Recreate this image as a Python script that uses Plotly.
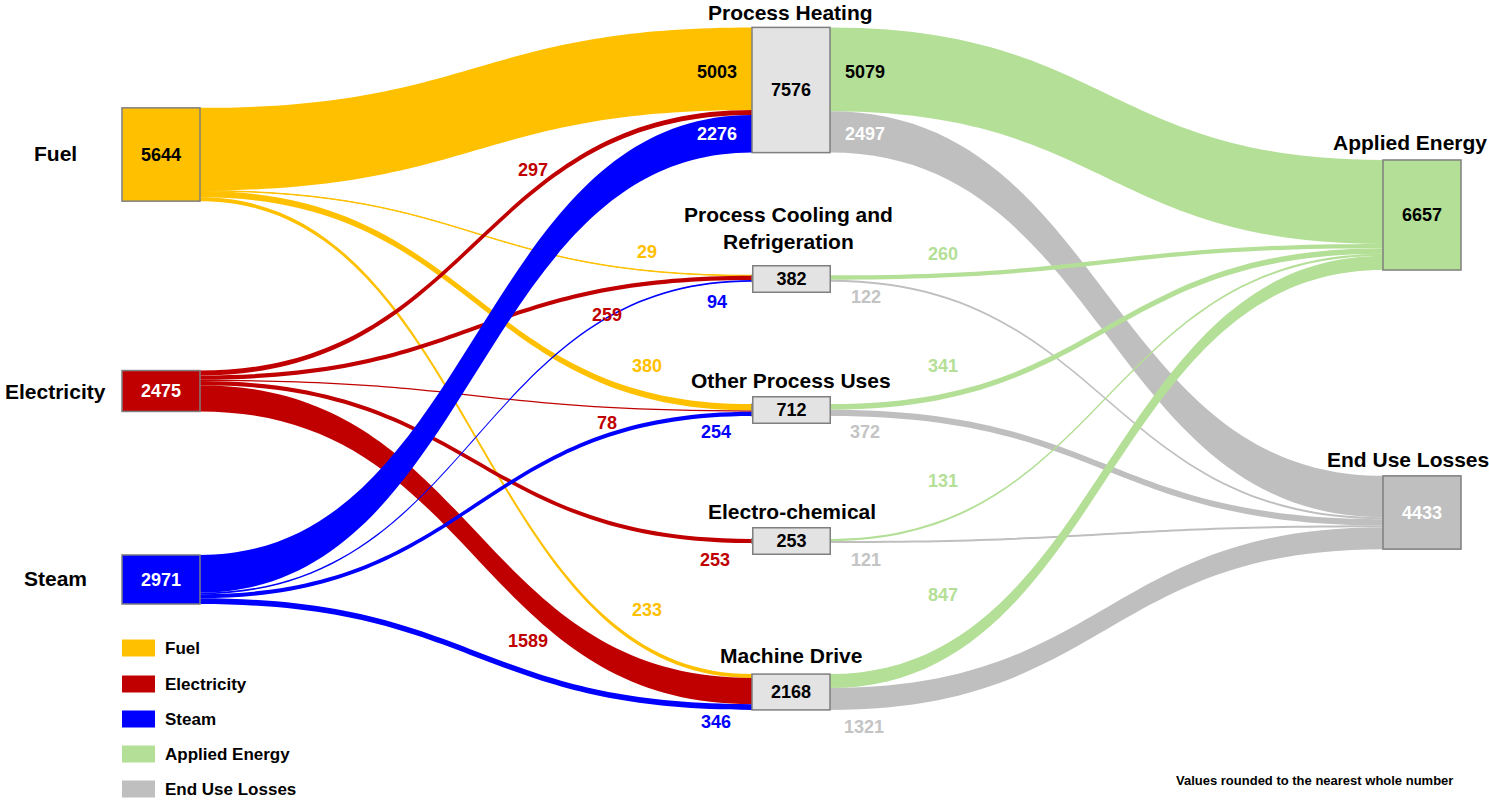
import plotly.graph_objects as go

# ---------------- data ----------------
node_names = ["Fuel", "Electricity", "Steam", "Process Heating",
              "Process Cooling and<br>Refrigeration", "Other Process Uses",
              "Electro-chemical", "Machine Drive", "Applied Energy", "End Use Losses"]
node_totals = [5644, 2475, 2971, 7576, 382, 712, 253, 2168, 6657, 4433]

link_source = [0, 0, 0, 0, 1, 1, 1, 1, 1, 2, 2, 2, 2, 3, 3, 4, 4, 5, 5, 6, 6, 7, 7]
link_target = [3, 4, 5, 7, 3, 4, 5, 6, 7, 3, 4, 5, 7, 8, 9, 8, 9, 8, 9, 8, 9, 8, 9]
link_value = [5003, 29, 380, 233,
              297, 259, 78, 253, 1589,
              2276, 94, 254, 346,
              5079, 2497, 260, 122, 341, 372, 131, 121, 847, 1321]

legend_names = ["Fuel", "Electricity", "Steam", "Applied Energy", "End Use Losses"]
footnote = "Values rounded to the nearest whole number"

# ---------------- styles / layout ----------------
W, H = 1489, 800
FONT = "Liberation Sans, Arial, sans-serif"
C_FUEL, C_ELEC, C_STEAM = "#FFC000", "#C00000", "#0000FF"
C_APPL, C_LOSS, C_MID = "#B4DF96", "#BFBFBF", "#E3E3E3"
legend_colors = [C_FUEL, C_ELEC, C_STEAM, C_APPL, C_LOSS]
node_colors = [C_FUEL, C_ELEC, C_STEAM, C_MID, C_MID, C_MID, C_MID, C_MID, C_APPL, C_LOSS]
node_value_colors = ["black", "white", "white", "black", "black", "black", "black", "black", "black", "white"]
source_colors = {0: C_FUEL, 1: C_ELEC, 2: C_STEAM}
link_colors = [source_colors.get(s, C_APPL if t == 8 else C_LOSS)
               for s, t in zip(link_source, link_target)]

# sankey drawing band (px from top) - its height sets the flow scale
DOM_TOP, DOM_BOT = 118, 668
DOM_H = DOM_BOT - DOM_TOP

# node centres in pixels
node_x_px = [161, 161, 161, 791, 791, 791, 791, 791, 1422, 1422]
node_y_px = [154.5, 391, 579.5, 90, 278.5, 410, 541, 692, 215, 512.5]
boxed_nodes = [4, 5, 6]  # small nodes drawn with a label box

# node name label centres (px)
name_pos = [(55, 153), (55, 391), (55, 578), (790, 12), (788, 228), (791, 380),
            (792, 511), (791, 655), (1410, 142), (1408, 459)]

# link value label centres (px)
link_label_pos = [(717, 72), (647, 252), (647, 366), (647, 610),
                  (533, 170), (607, 315), (607, 423), (715, 560), (528, 641),
                  (717, 134), (717, 302), (716, 432), (716, 722),
                  (865, 72), (865, 134), (943, 254), (866, 297), (943, 366), (865, 432),
                  (943, 481), (866, 560), (943, 595), (864, 727)]
link_label_colors = []
for i, (s, t) in enumerate(zip(link_source, link_target)):
    c = link_colors[i]
    if (s, t) in [(0, 3), (3, 8)]:
        c = "black"
    elif (s, t) in [(2, 3), (3, 9)]:
        c = "white"
    elif c == C_LOSS:
        c = "#C4C4C4"
    link_label_colors.append(c)

# legend geometry (px)
legend_y_px = [648, 684, 719, 754, 789]
LEG_X0, LEG_X1, LEG_H, LEG_TX = 122, 155, 17, 163

fig = go.Figure()
fig.add_trace(go.Sankey(
    arrangement="fixed",
    domain=dict(x=[0, 1], y=[1 - DOM_BOT / H, 1 - DOM_TOP / H]),
    node=dict(
        label=[""] * len(node_names),
        customdata=[n.replace("<br>", " ") for n in node_names],
        hovertemplate="%{customdata}: %{value}<extra></extra>",
        x=[v / W for v in node_x_px],
        y=[(v - DOM_TOP) / DOM_H for v in node_y_px],
        pad=1000,
        thickness=78,
        color=node_colors,
        line=dict(color="#7F7F7F", width=1.5),
    ),
    link=dict(
        source=link_source,
        target=link_target,
        value=link_value,
        color=link_colors,
        line=dict(width=0),
        hoverinfo="none",
    ),
))

ann = []
shapes = []
# node values
for i, v in enumerate(node_totals):
    a = dict(x=node_x_px[i] / W, y=1 - node_y_px[i] / H, xref="paper", yref="paper",
             text=f"<b>{v}</b>", showarrow=False,
             font=dict(family=FONT, size=18, color=node_value_colors[i]),
             xanchor="center", yanchor="middle")
    if i in boxed_nodes:
        a.update(bgcolor=C_MID, bordercolor="#7F7F7F", borderwidth=1.5,
                 width=72, height=21, borderpad=2)
    ann.append(a)
# node names
for i, n in enumerate(node_names):
    ann.append(dict(x=name_pos[i][0] / W, y=1 - name_pos[i][1] / H, xref="paper", yref="paper",
                    text=f"<b>{n}</b>", showarrow=False,
                    font=dict(family=FONT, size=21, color="black"),
                    xanchor="center", yanchor="middle"))
# link values
for i, v in enumerate(link_value):
    ann.append(dict(x=link_label_pos[i][0] / W, y=1 - link_label_pos[i][1] / H,
                    xref="paper", yref="paper", text=f"<b>{v}</b>", showarrow=False,
                    font=dict(family=FONT, size=18, color=link_label_colors[i]),
                    xanchor="center", yanchor="middle"))
# legend
for name, col, yc in zip(legend_names, legend_colors, legend_y_px):
    shapes.append(dict(type="rect", xref="paper", yref="paper",
                       x0=LEG_X0 / W, x1=LEG_X1 / W,
                       y0=1 - (yc + LEG_H / 2) / H, y1=1 - (yc - LEG_H / 2) / H,
                       fillcolor=col, line=dict(width=0)))
    ann.append(dict(x=LEG_TX / W, y=1 - yc / H, xref="paper", yref="paper",
                    text=f"<b>{name}</b>", showarrow=False,
                    font=dict(family=FONT, size=17, color="black"),
                    xanchor="left", yanchor="middle"))
# footnote
ann.append(dict(x=1314 / W, y=1 - 780 / H, xref="paper", yref="paper",
                text=f"<b>{footnote}</b>", showarrow=False,
                font=dict(family=FONT, size=13, color="black"),
                xanchor="center", yanchor="middle"))

fig.update_layout(
    width=W, height=H,
    margin=dict(l=0, r=0, t=0, b=0),
    paper_bgcolor="white", plot_bgcolor="white",
    annotations=ann,
    shapes=shapes,
    showlegend=False,
    font=dict(family=FONT),
)

fig.write_html("out.html",
               config={"displayModeBar": False},
               post_script="document.body.style.margin='0';document.body.style.overflow='hidden';")
